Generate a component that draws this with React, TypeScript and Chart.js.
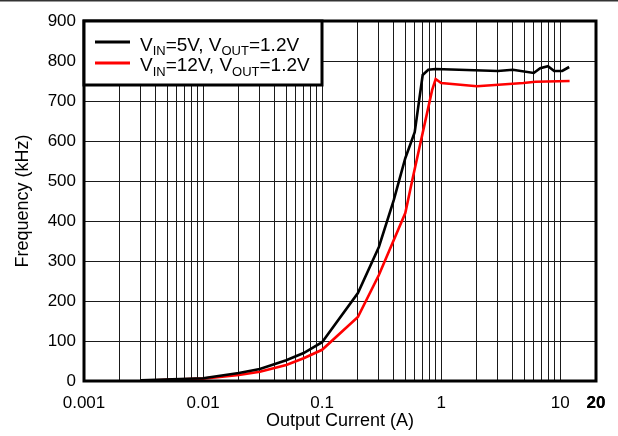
import React, { useEffect, useRef } from 'react';
import { Chart, registerables } from 'chart.js';

Chart.register(...registerables);

// Output current (A) and switching frequency (kHz)
const current5V = [0.003, 0.01, 0.02, 0.03, 0.05, 0.07, 0.1, 0.2, 0.3, 0.4, 0.5, 0.6, 0.7, 0.78, 0.9, 3, 4, 6, 6.8, 7.9, 8.9, 10.4, 11.9];
const freq5V = [2, 7, 20, 30, 52, 70, 97, 220, 335, 452, 557, 622, 765, 778, 780, 775, 778, 770, 782, 787, 775, 775, 785];

const current12V = [0.004, 0.01, 0.02, 0.03, 0.05, 0.07, 0.1, 0.2, 0.3, 0.5, 0.58, 0.84, 0.9, 1.0, 2.0, 4.9, 6.2, 12];
const freq12V = [2, 6, 15, 23, 40, 57, 78, 160, 265, 420, 510, 727, 755, 745, 737, 745, 748, 750];

const decades = [0.001, 0.01, 0.1, 1, 10];
const multipliers = [1, 2, 3, 4, 5, 6, 7, 8, 9];
const xMajorValues = [0.001, 0.01, 0.1, 1, 10, 20];
const xMajorLabels = ['0.001', '0.01', '0.1', '1', '10', '20'];
const xMin = 0.001;
const xMax = 20;
const yTicks = [0, 100, 200, 300, 400, 500, 600, 700, 800, 900];

const FONT = "'Liberation Sans', Arial, sans-serif";
const GRID = '#1a1a1a';

const legendItems = [
  { color: '#000000', parts: [['V', 0], ['IN', 1], ['=5V, V', 0], ['OUT', 1], ['=1.2V', 0]] },
  { color: '#ff0000', parts: [['V', 0], ['IN', 1], ['=12V, V', 0], ['OUT', 1], ['=1.2V', 0]] },
];

function plotBox(chart: any) {
  const xs = chart.scales.x;
  const ys = chart.scales.y;
  return {
    L: Math.round(xs.getPixelForValue(xMin)),
    R: Math.round(xs.getPixelForValue(xMax)),
    T: Math.round(ys.getPixelForValue(yTicks[yTicks.length - 1])),
    B: Math.round(ys.getPixelForValue(yTicks[0])),
  };
}

const framePlugin = {
  id: 'frame',
  beforeDraw(chart: any) {
    const { ctx } = chart;
    ctx.save();
    ctx.fillStyle = '#ffffff';
    ctx.fillRect(0, 0, chart.width, chart.height);
    ctx.fillStyle = '#333333';
    ctx.fillRect(0, 0, chart.width, 1.5);
    ctx.restore();
  },
  beforeDatasetsDraw(chart: any) {
    const { ctx } = chart;
    const ys = chart.scales.y;
    const { L, R } = plotBox(chart);
    ctx.save();
    ctx.strokeStyle = GRID;
    ctx.lineWidth = 1;
    yTicks.forEach((v) => {
      const y = Math.round(ys.getPixelForValue(v)) + 0.5;
      ctx.beginPath();
      ctx.moveTo(L, y);
      ctx.lineTo(R, y);
      ctx.stroke();
    });
    ctx.restore();
  },
  afterDatasetsDraw(chart: any) {
    const { ctx } = chart;
    const { L, R, T, B } = plotBox(chart);
    ctx.save();
    // clear anything right of plot
    ctx.fillStyle = '#fff';
    ctx.fillRect(R + 2, T - 3, chart.width - R, B - T + 5);
    // plot border
    ctx.strokeStyle = '#000';
    ctx.lineWidth = 3;
    ctx.strokeRect(L, T, R - L, B - T);
    // legend box
    const bx = L, by = T, bw = 238, bh = 64;
    ctx.fillStyle = '#fff';
    ctx.fillRect(bx, by, bw, bh);
    ctx.strokeRect(bx, by, bw, bh);
    const rows = [42, 63];
    const baselines = [50.5, 71];
    legendItems.forEach((it, i) => {
      ctx.strokeStyle = it.color;
      ctx.lineWidth = 3;
      ctx.beginPath();
      ctx.moveTo(95, rows[i]);
      ctx.lineTo(130, rows[i]);
      ctx.stroke();
      let x = 140;
      ctx.fillStyle = '#000';
      ctx.textBaseline = 'alphabetic';
      ctx.textAlign = 'left';
      it.parts.forEach(([t, sub]: any) => {
        ctx.font = sub ? `13px ${FONT}` : `19px ${FONT}`;
        const y = sub ? baselines[i] + 4.5 : baselines[i];
        ctx.fillText(t, x, y);
        x += ctx.measureText(t).width;
      });
    });
    ctx.restore();
  },
};

export default function App() {
  const ref = useRef<HTMLCanvasElement>(null);
  useEffect(() => {
    if (!ref.current) return;
    const gridValues: number[] = [];
    decades.forEach((d) => multipliers.forEach((m) => gridValues.push(+(d * m).toPrecision(3))));
    gridValues.push(xMax);
    const chart = new Chart(ref.current, {
      type: 'line',
      data: {
        datasets: [
          {
            label: 'VIN=5V, VOUT=1.2V',
            data: current5V.map((x, i) => ({ x, y: freq5V[i] })),
            borderColor: '#000000',
            borderWidth: 2.6,
            pointRadius: 0,
            tension: 0,
          },
          {
            label: 'VIN=12V, VOUT=1.2V',
            data: current12V.map((x, i) => ({ x, y: freq12V[i] })),
            borderColor: '#ff0000',
            borderWidth: 2.6,
            pointRadius: 0,
            tension: 0,
          },
        ],
      },
      options: {
        responsive: false,
        animation: false,
        layout: { padding: { top: 21, right: 22, left: 0, bottom: 0 } },
        plugins: { legend: { display: false }, tooltip: { enabled: false } },
        scales: {
          x: {
            type: 'logarithmic',
            min: xMin,
            max: xMax,
            afterBuildTicks: (s: any) => {
              s.ticks = gridValues.map((v) => ({ value: v }));
            },
            afterFit: (s: any) => {
              s.height = 55;
            },
            grid: { color: GRID, lineWidth: 1, drawTicks: false },
            border: { display: false },
            ticks: {
              autoSkip: false,
              maxRotation: 0,
              padding: 12,
              color: '#000',
              font: (c: any) => ({ family: FONT, size: 17, weight: c.tick && c.tick.value === 20 ? 'bold' : 'normal' }),
              callback: (v: any) => {
                const idx = xMajorValues.findIndex((m) => Math.abs(m - v) / m < 1e-6);
                return idx >= 0 ? xMajorLabels[idx] : '';
              },
            },
            title: {
              display: true,
              text: 'Output Current (A)',
              color: '#000',
              font: { family: FONT, size: 18 },
              padding: { top: 0, bottom: 4 },
            },
          },
          y: {
            min: 0,
            max: 900,
            afterBuildTicks: (s: any) => {
              s.ticks = yTicks.map((v) => ({ value: v }));
            },
            afterFit: (s: any) => {
              s.width = 84;
            },
            grid: { display: false, drawTicks: false },
            border: { display: false },
            ticks: {
              padding: 8,
              color: '#000',
              font: { family: FONT, size: 17 },
            },
            title: {
              display: true,
              text: 'Frequency (kHz)',
              color: '#000',
              font: { family: FONT, size: 18 },
              padding: { top: 12, bottom: 0 },
            },
          },
        },
      },
      plugins: [framePlugin],
    });
    return () => chart.destroy();
  }, []);
  return (
    <div style={{ position: 'absolute', left: 0, top: 0, width: 618, height: 436 }}>
      <canvas ref={ref} width={618} height={436} style={{ width: 618, height: 436 }} />
    </div>
  );
}
